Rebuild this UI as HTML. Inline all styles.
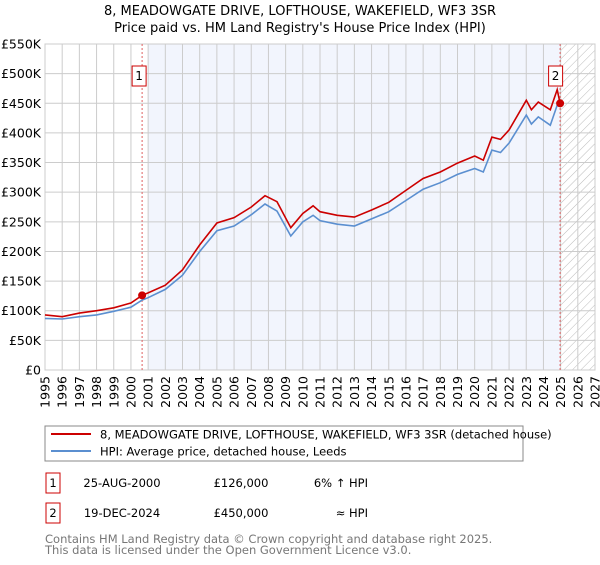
<!DOCTYPE html>
<html><head><meta charset="utf-8"><style>
body{margin:0;background:#fff;font-family:"Liberation Sans","DejaVu Sans",sans-serif;}
svg text{font-family:"DejaVu Sans","Liberation Sans",sans-serif;}
</style></head><body>
<svg id="c" width="600" height="560" xmlns="http://www.w3.org/2000/svg">
<defs><pattern id="hatch" width="6" height="6" patternUnits="userSpaceOnUse" patternTransform="rotate(45)"><line x1="0" y1="0" x2="0" y2="6" stroke="#bbb" stroke-width="1"/></pattern></defs>
<text x="300" y="15" text-anchor="middle" font-size="13">8, MEADOWGATE DRIVE, LOFTHOUSE, WAKEFIELD, WF3 3SR</text>
<text x="300" y="32" text-anchor="middle" font-size="13">Price paid vs. HM Land Registry's House Price Index (HPI)</text>
<g id="plot"></g>
<rect x="45" y="426" width="478" height="35" fill="#fff" stroke="#888"/>
<line x1="51" y1="434" x2="91" y2="434" stroke="#cc0000" stroke-width="2"/>
<text x="100" y="438.5" font-size="11.5">8, MEADOWGATE DRIVE, LOFTHOUSE, WAKEFIELD, WF3 3SR (detached house)</text>
<line x1="51" y1="451" x2="91" y2="451" stroke="#5b8fd0" stroke-width="2"/>
<text x="100" y="455.5" font-size="11.5">HPI: Average price, detached house, Leeds</text>
<g font-size="11.5">
<rect x="46" y="473" width="14" height="20" fill="#fff" stroke="#cc0000"/>
<text x="53" y="487" text-anchor="middle">1</text>
<text x="122" y="487" text-anchor="middle">25-AUG-2000</text>
<text x="241" y="487" text-anchor="middle">£126,000</text>
<text x="368" y="487" text-anchor="end">6% ↑ HPI</text>
<rect x="46" y="503" width="14" height="20" fill="#fff" stroke="#cc0000"/>
<text x="53" y="517" text-anchor="middle">2</text>
<text x="122" y="517" text-anchor="middle">19-DEC-2024</text>
<text x="241" y="517" text-anchor="middle">£450,000</text>
<text x="368" y="517" text-anchor="end">≈ HPI</text>
</g>
<text x="45" y="543" font-size="11.5" fill="#777">Contains HM Land Registry data © Crown copyright and database right 2025.</text>
<text x="45" y="554" font-size="11.5" fill="#777">This data is licensed under the Open Government Licence v3.0.</text>
</svg>
<script>
const hpiYears=[1995,1996,1997,1998,1999,2000,2000.65,2001,2002,2003,2004,2005,2006,2007,2007.8,2008.5,2009.3,2010,2010.6,2011,2012,2013,2014,2015,2016,2017,2018,2019,2020,2020.5,2021,2021.5,2022,2023,2023.3,2023.7,2024.4,2024.8,2024.97];
const hpiValues=[87,86,90,93,99,106,118,122,136,160,200,235,243,262,280,268,226,250,261,252,246,243,255,267,286,305,316,330,340,334,371,367,383,430,415,427,413,447,450];
const propValues=[93,90,96,100,105,113,126,130,143,169,211,248,257,275,294,284,240,264,277,267,261,258,270,283,303,323,334,349,361,354,393,389,405,455,439,452,439,473,450];
const yTicks=[0,50,100,150,200,250,300,350,400,450,500,550];
const yTickLabels=["£0","£50K","£100K","£150K","£200K","£250K","£300K","£350K","£400K","£450K","£500K","£550K"];
const xTicks=[1995,1996,1997,1998,1999,2000,2001,2002,2003,2004,2005,2006,2007,2008,2009,2010,2011,2012,2013,2014,2015,2016,2017,2018,2019,2020,2021,2022,2023,2024,2025,2026,2027];
const saleYears=[2000.65,2024.97];
const salePrices=[126,450];
const saleLabels=["1","2"];
const X0=45,X1=595,Y0=370,Y1=44;
const x=v=>X0+(v-1995)/(2027-1995)*(X1-X0);
const y=v=>Y0-v/550*(Y0-Y1);
const NS="http://www.w3.org/2000/svg";
const g=document.getElementById('plot');
function mk(t,a){const e=document.createElementNS(NS,t);for(const k in a)e.setAttribute(k,a[k]);g.appendChild(e);return e;}
let e;
e=mk('rect',{x:x(2001),y:Y1,width:x(2024.97)-x(2001),height:Y0-Y1,fill:'#f2f5fd'});


e=mk('rect',{x:x(2024.97),y:Y1,width:X1-x(2024.97),height:Y0-Y1,fill:'url(#hatch)'});


yTicks.forEach((t,i)=>{
 e=mk('line',{x1:X0,x2:X1,y1:y(t),y2:y(t),stroke:'#ccc','stroke-width':1});
 
 
 e=mk('text',{x:X0-4,y:y(t)+4.5,'text-anchor':'end','font-size':12.5});
 e.textContent=yTickLabels[i];
 
 
});
xTicks.forEach(t=>{
 e=mk('line',{x1:x(t),x2:x(t),y1:Y1,y2:Y0,stroke:'#ccc','stroke-width':1});
 
 
 e=mk('text',{x:0,y:0,'text-anchor':'end','font-size':12.5,transform:`translate(${x(t)+4.5},${Y0+6}) rotate(-90)`});
 e.textContent=t;
 
 
});
e=mk('rect',{x:X0,y:Y1,width:X1-X0,height:Y0-Y1,fill:'none',stroke:'#ccc'});


saleYears.forEach((s,i)=>{
 e=mk('line',{x1:x(s),x2:x(s),y1:Y1,y2:Y0,stroke:'#e06060','stroke-dasharray':'2,2','stroke-width':1});
 
 
});
const pts=v=>hpiYears.map((yr,i)=>x(yr).toFixed(1)+','+y(v[i]).toFixed(1)).join(' ');
e=mk('polyline',{points:pts(hpiValues),fill:'none',stroke:'#5b8fd0','stroke-width':1.6});


e=mk('polyline',{points:pts(propValues),fill:'none',stroke:'#cc0000','stroke-width':1.6});


saleYears.forEach((s,i)=>{
 e=mk('circle',{cx:x(s),cy:y(salePrices[i]),r:4,fill:'#cc0000'});
 
 
 const bx=x(s)-(i==0?3:4.5), by=66;
 e=mk('rect',{x:bx-7,y:by,width:14,height:20,fill:'#fff',stroke:'#cc0000'});
 
 
 e=mk('text',{x:bx,y:by+14,'text-anchor':'middle','font-size':12});
 e.textContent=saleLabels[i];
 
 
});
</script>
</body></html>
